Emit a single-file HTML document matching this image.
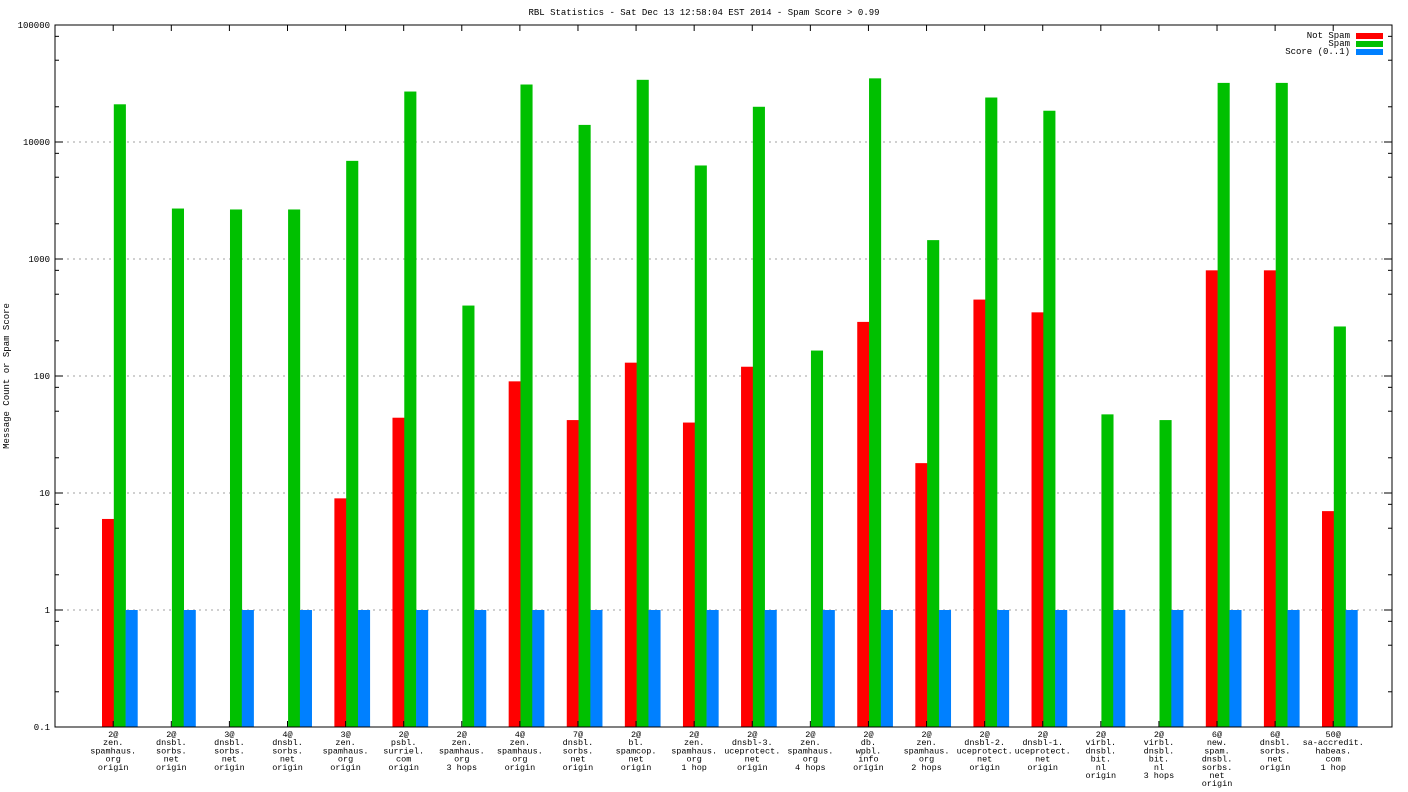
<!DOCTYPE html>
<html><head><meta charset="utf-8">
<style>
body{margin:0;background:#fff;}
svg{display:block;font-family:"Liberation Mono","DejaVu Sans Mono",monospace;font-size:9px;}
</style></head>
<body>
<svg id="chart" width="1408" height="792" viewBox="0 0 1408 792" xmlns="http://www.w3.org/2000/svg">
<rect width="1408" height="792" fill="#fff"/>
<text x="704" y="15" text-anchor="middle">RBL Statistics - Sat Dec 13 12:58:04 EST 2014 - Spam Score &gt; 0.99</text>
<text transform="translate(9,376) rotate(-90)" text-anchor="middle">Message Count or Spam Score</text>
<g id="grid"></g>
<g id="bars"></g>
<g id="axes"></g>
<g id="xlabels" style="font-size:8.5px"></g>
<g>
<text x="1350" y="38" text-anchor="end">Not Spam</text>
<rect x="1356" y="33" width="27" height="6" fill="#ff0000"/>
<text x="1350" y="46" text-anchor="end">Spam</text>
<rect x="1356" y="41" width="27" height="6" fill="#00c000"/>
<text x="1350" y="54" text-anchor="end">Score (0..1)</text>
<rect x="1356" y="49" width="27" height="6" fill="#0080ff"/>
</g>
</svg>
<script>
const categories = [
 ["2@","zen.","spamhaus.","org","origin"],
 ["2@","dnsbl.","sorbs.","net","origin"],
 ["3@","dnsbl.","sorbs.","net","origin"],
 ["4@","dnsbl.","sorbs.","net","origin"],
 ["3@","zen.","spamhaus.","org","origin"],
 ["2@","psbl.","surriel.","com","origin"],
 ["2@","zen.","spamhaus.","org","3 hops"],
 ["4@","zen.","spamhaus.","org","origin"],
 ["7@","dnsbl.","sorbs.","net","origin"],
 ["2@","bl.","spamcop.","net","origin"],
 ["2@","zen.","spamhaus.","org","1 hop"],
 ["2@","dnsbl-3.","uceprotect.","net","origin"],
 ["2@","zen.","spamhaus.","org","4 hops"],
 ["2@","db.","wpbl.","info","origin"],
 ["2@","zen.","spamhaus.","org","2 hops"],
 ["2@","dnsbl-2.","uceprotect.","net","origin"],
 ["2@","dnsbl-1.","uceprotect.","net","origin"],
 ["2@","virbl.","dnsbl.","bit.","nl","origin"],
 ["2@","virbl.","dnsbl.","bit.","nl","3 hops"],
 ["6@","new.","spam.","dnsbl.","sorbs.","net","origin"],
 ["6@","dnsbl.","sorbs.","net","origin"],
 ["50@","sa-accredit.","habeas.","com","1 hop"]
];
const notSpam = [6,0,0,0,9,44,0,90,42,130,40,120,0,290,18,450,350,0,0,800,800,7];
const spam = [21000,2700,2650,2650,6900,27000,400,31000,14000,34000,6300,20000,165,35000,1450,24000,18500,47,42,32000,32000,265];
const score = [1,1,1,1,1,1,1,1,1,1,1,1,1,1,1,1,1,1,1,1,1,1];
const yTickLabels = ["0.1","1","10","100","1000","10000","100000"];
const yTickValues = [0.1,1,10,100,1000,10000,100000];

const NS="http://www.w3.org/2000/svg";
const L=55,R=1392,T=25,B=727;
const decade=(B-T)/6;
function y(v){return B-(Math.log10(v)+1)*decade;}
const step=(1322-102)/(categories.length-1);
function x0(i){return 102+i*step;}
const bw=11.8;
function mk(tag,attrs,parent){const e=document.createElementNS(NS,tag);for(const k in attrs)e.setAttribute(k,attrs[k]);parent.appendChild(e);return e;}
const grid=document.getElementById('grid'),bars=document.getElementById('bars'),axes=document.getElementById('axes'),xl=document.getElementById('xlabels');

yTickValues.forEach((v,i)=>{
  const yy=y(v);
  if(i>0&&i<yTickValues.length-1){
    const g=mk('line',{x1:L,x2:R,y1:yy,y2:yy,stroke:'#a0a0a0','stroke-dasharray':'2,4'},grid);
    
    
  }
  const t=mk('text',{x:L-5,y:yy+3,'text-anchor':'end'},axes);
  t.textContent=yTickLabels[i];
  
  
  mk('line',{x1:L,x2:L+8,y1:yy,y2:yy,stroke:'#000'},axes);
  mk('line',{x1:R-8,x2:R,y1:yy,y2:yy,stroke:'#000'},axes);
  if(i<yTickValues.length-1){
    [2,5,8].forEach(m=>{const ym=y(v*m);
      mk('line',{x1:L,x2:L+4,y1:ym,y2:ym,stroke:'#000'},axes);
      mk('line',{x1:R-4,x2:R,y1:ym,y2:ym,stroke:'#000'},axes);});
  }
});

const series=[[notSpam,'#ff0000','bar-not-spam'],[spam,'#00c000','bar-spam'],[score,'#0080ff','bar-score']];
categories.forEach((c,i)=>{
  series.forEach((s,j)=>{
    const v=s[0][i];
    if(!v||v<=0)return;
    const top=y(v);
    const r=mk('rect',{x:x0(i)+j*bw,y:top,width:bw+0.3,height:B-top,fill:s[1]},bars);
    
    
  });
  const cx=x0(i)+bw*0.95;
  mk('line',{x1:cx,x2:cx,y1:B,y2:B-6,stroke:'#000'},axes);
  mk('line',{x1:cx,x2:cx,y1:T,y2:T+6,stroke:'#000'},axes);
  c.forEach((line,k)=>{
    const t=mk('text',{x:cx,y:B+10+k*8.2,'text-anchor':'middle'},xl);
    t.textContent=line;
    
    
  });
});
const frame=mk('rect',{x:L,y:T,width:R-L,height:B-T,fill:'none',stroke:'#000','stroke-width':1},axes);


</script>
</body></html>
